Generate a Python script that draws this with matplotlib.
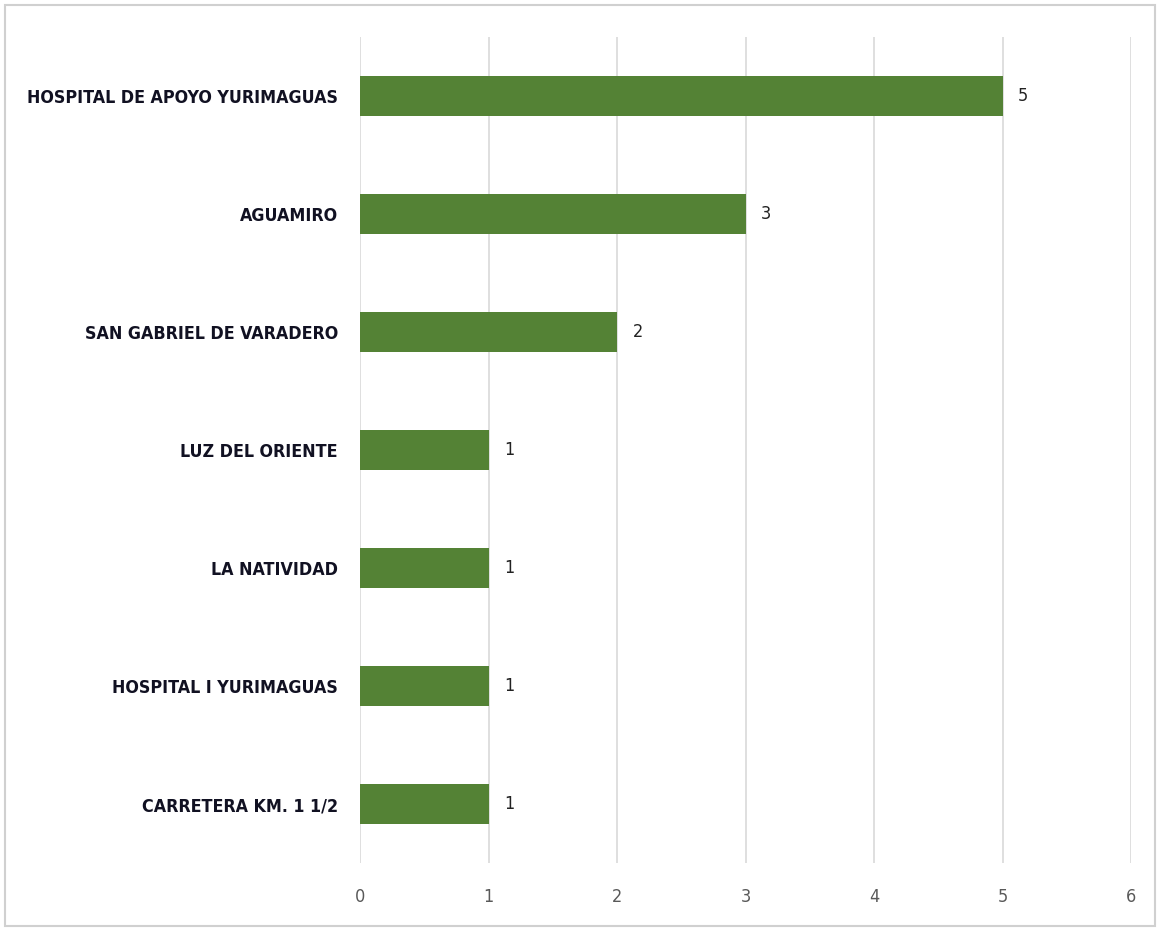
import matplotlib
matplotlib.use("Agg")
import matplotlib.pyplot as plt
from matplotlib import font_manager
from matplotlib.patches import Rectangle

categories = ["HOSPITAL DE APOYO YURIMAGUAS", "AGUAMIRO", "SAN GABRIEL DE VARADERO",
              "LUZ DEL ORIENTE", "LA NATIVIDAD", "HOSPITAL I YURIMAGUAS", "CARRETERA KM. 1 1/2"]
values = [5, 3, 2, 1, 1, 1, 1]
xticks = [0, 1, 2, 3, 4, 5, 6]

names = {f.name for f in font_manager.fontManager.ttflist}
fam = "Liberation Sans Narrow" if "Liberation Sans Narrow" in names else "DejaVu Sans"

fig = plt.figure(figsize=(11.58, 9.31), dpi=100)
ax = fig.add_axes([0.3109, 0.0730, 0.6658, 0.8873])

ypos = list(range(len(categories)))[::-1]
ax.barh(ypos, values, height=0.34, color="#548235", zorder=3)
for y, v in zip(ypos, values):
    ax.text(v + 0.12, y, str(v), va="center", ha="left", fontsize=13, family=fam,
            fontstretch="condensed", color="#222222")

ax.set_xlim(0, 6)
ax.set_ylim(-0.5, len(categories) - 0.5)
ax.set_xticks(xticks)
ax.set_xticklabels([str(t) for t in xticks], fontsize=13, family=fam,
                   fontstretch="condensed", color="#595959")
ax.set_yticks(ypos)
ax.set_yticklabels(categories, fontsize=12.8, family=fam, fontweight="bold",
                   fontstretch="condensed", color="#111122")
ax.tick_params(axis="x", length=0, pad=18)
ax.tick_params(axis="y", length=0, pad=16)
ax.grid(axis="x", color="#d9d9d9", linewidth=1.2, zorder=0)
for s in ax.spines.values():
    s.set_visible(False)

fig.patches.append(Rectangle((0.004, 0.005), 0.993, 0.99, transform=fig.transFigure,
                             fill=False, edgecolor="#d0d0d0", linewidth=1.5))
fig.savefig("out.png", dpi=100)
